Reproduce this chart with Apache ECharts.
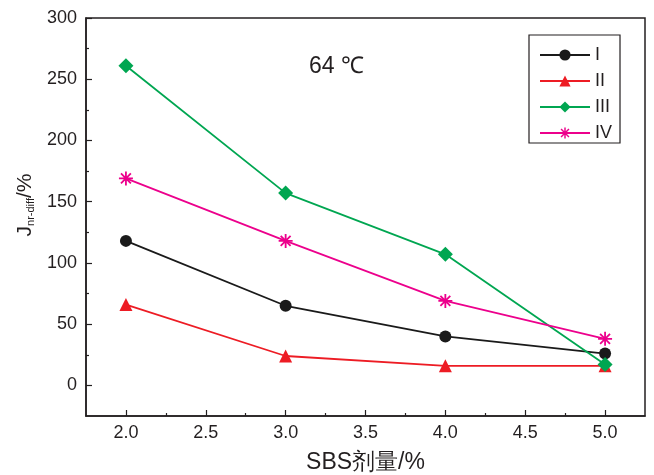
<!DOCTYPE html>
<html>
<head>
<meta charset="utf-8">
<script src="https://cdn.jsdelivr.net/npm/echarts@6/dist/echarts.min.js"></script>
<style>
  html, body { margin: 0; padding: 0; background: #fff; }
  #chart { width: 654px; height: 475px; }
</style>
</head>
<body>
<div id="chart"></div>
<script>
// SBS dosage (%) on the x axis
const dosage = [2.0, 3.0, 4.0, 5.0];

// J_nr-diff (%) for each asphalt group at 64 °C
const seriesNames = ['I', 'II', 'III', 'IV'];
const valuesI = [118, 65, 40, 26];
const valuesII = [66, 24, 16, 16];
const valuesIII = [261, 157, 107, 17];
const valuesIV = [169, 118, 69, 38];

// Tick positions
const xMajorTicks = [2.0, 2.5, 3.0, 3.5, 4.0, 4.5, 5.0];
const xMinorTicks = [2.25, 2.75, 3.25, 3.75, 4.25, 4.75];
const yMajorTicks = [0, 50, 100, 150, 200, 250, 300];
const yMinorTicks = [25, 75, 125, 175, 225, 275];

const axisColor = '#231f20';
const fontFamily = '"Liberation Sans", Arial, sans-serif';

// Eight-armed asterisk marker built from four thin bars
function asteriskPath() {
  const w = 0.13;
  const base = [[-w, -1], [w, -1], [w, 1], [-w, 1]];
  let d = '';
  [0, 45, 90, 135].forEach(function (deg) {
    const a = deg * Math.PI / 180, c = Math.cos(a), s = Math.sin(a);
    base.forEach(function (p, i) {
      const x = p[0] * c - p[1] * s, y = p[0] * s + p[1] * c;
      d += (i === 0 ? 'M' : 'L') + x.toFixed(3) + ',' + y.toFixed(3) + ' ';
    });
    d += 'Z ';
  });
  return 'path://' + d;
}

function pairs(values) {
  return dosage.map(function (x, i) { return [x, values[i]]; });
}

const seriesStyles = [
  { data: valuesI, color: '#1a1a1a', symbol: 'circle', size: 12 },
  { data: valuesII, color: '#ed1c24', symbol: 'triangle', size: 13 },
  { data: valuesIII, color: '#00a651', symbol: 'diamond', size: 15 },
  { data: valuesIV, color: '#ec008c', symbol: asteriskPath(), size: 14 }
];

const chart = echarts.init(document.getElementById('chart'), null, { renderer: 'canvas' });

chart.setOption({
  animation: false,
  backgroundColor: '#fff',
  textStyle: { fontFamily: fontFamily },
  grid: {
    left: 86, top: 18, right: 9, bottom: 59,
    outerBoundsMode: 'none', containLabel: false,
    show: true, borderColor: axisColor, borderWidth: 1.5, backgroundColor: 'transparent'
  },
  legend: {
    left: 529, top: 35,
    orient: 'vertical',
    data: seriesNames,
    borderColor: axisColor, borderWidth: 1.2,
    padding: [11, 8, 1, 10],
    itemWidth: 50, itemHeight: 14, itemGap: 8,
    textStyle: { fontSize: 18, color: axisColor, fontFamily: fontFamily, lineHeight: 17 }
  },
  graphic: [{
    type: 'text', left: 309, top: 55,
    style: { text: '64 \u2103', font: '23px ' + fontFamily, fill: axisColor }
  }],
  xAxis: [{
    type: 'value', min: 1.75, max: 5.25,
    name: 'SBS剂量/%', nameLocation: 'middle', nameGap: 35,
    nameTextStyle: { fontSize: 23, color: axisColor, fontFamily: fontFamily },
    axisLine: { show: true, onZero: false, lineStyle: { color: axisColor, width: 1.5 } },
    axisTick: { inside: true, length: 6, customValues: xMajorTicks, lineStyle: { color: axisColor, width: 1.2 } },
    axisLabel: {
      customValues: xMajorTicks, margin: 8, fontSize: 18, color: axisColor,
      formatter: function (v) { return v.toFixed(1); }
    },
    splitLine: { show: false }
  }, {
    type: 'value', min: 1.75, max: 5.25, position: 'bottom',
    axisLine: { show: false, onZero: false },
    axisTick: { inside: true, length: 3, customValues: xMinorTicks, lineStyle: { color: axisColor, width: 1.2 } },
    axisLabel: { show: false },
    splitLine: { show: false }
  }],
  yAxis: [{
    type: 'value', min: -25, max: 300,
    name: '{a|J}{b|nr-diff}{a|/%}', nameLocation: 'middle', nameGap: 49,
    nameTextStyle: {
      color: axisColor,
      padding: [0, 0, 0, 24],
      rich: {
        a: { fontSize: 21, color: axisColor, fontFamily: fontFamily },
        b: { fontSize: 11, color: axisColor, fontFamily: fontFamily, verticalAlign: 'bottom', padding: [8, 0, 0, 0] }
      }
    },
    axisLine: { show: true, onZero: false, lineStyle: { color: axisColor, width: 1.5 } },
    axisTick: { inside: true, length: 6, customValues: yMajorTicks, lineStyle: { color: axisColor, width: 1.2 } },
    axisLabel: { customValues: yMajorTicks, margin: 9, fontSize: 18, color: axisColor },
    splitLine: { show: false }
  }, {
    type: 'value', min: -25, max: 300, position: 'left',
    axisLine: { show: false, onZero: false },
    axisTick: { inside: true, length: 3, customValues: yMinorTicks, lineStyle: { color: axisColor, width: 1.2 } },
    axisLabel: { show: false },
    splitLine: { show: false }
  }],
  series: seriesStyles.map(function (s, i) {
    return {
      name: seriesNames[i],
      type: 'line',
      data: pairs(s.data),
      symbol: s.symbol,
      symbolSize: s.size,
      showAllSymbol: true,
      color: s.color,
      lineStyle: { color: s.color, width: 1.8 },
      itemStyle: { color: s.color, opacity: 1 },
      emphasis: { disabled: true }
    };
  })
});
</script>
</body>
</html>
